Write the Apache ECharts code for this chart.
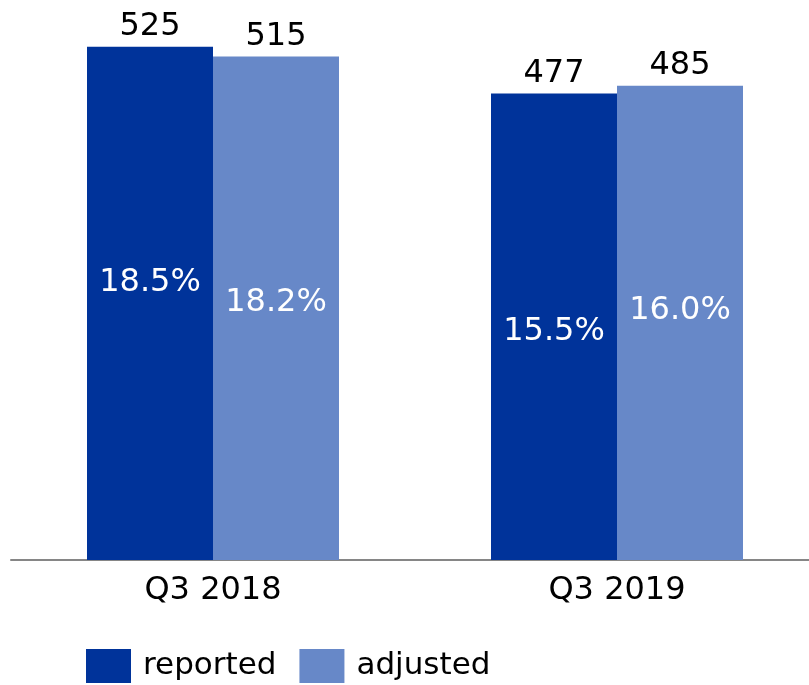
<!DOCTYPE html>
<html>
<head>
<meta charset="utf-8">
<script src="https://cdn.jsdelivr.net/npm/echarts@6/dist/echarts.min.js"></script>
<style>
  html, body { margin: 0; padding: 0; background: #fff; }
  #chart { width: 809px; height: 685px; }
</style>
</head>
<body>
<div id="chart"></div>
<script>
var categories = ['Q3 2018', 'Q3 2019'];
var reported = [525, 477];
var adjusted = [515, 485];
var reportedPct = ['18.5%', '15.5%'];
var adjustedPct = ['18.2%', '16.0%'];

// vertical shifts of the % labels from the bar middle
var reportedPctShift = [-21, 5];
var adjustedPctShift = [-6, -12];

var FONT = 'DejaVu Sans, Verdana, sans-serif';
var darkBlue = '#00339a';
var lightBlue = '#6788c8';

function pctData(vals, texts, shifts) {
    return vals.map(function (v, i) {
        return { value: v, pct: texts[i], label: { offset: [0, shifts[i]] } };
    });
}

var chart = echarts.init(document.getElementById('chart'));
var option = {
    animation: false,
    grid: { left: 11, width: 808, top: 0, bottom: 125, outerBoundsMode: 'none' },
    legend: {
        data: ['reported', 'adjusted'],
        left: 81,
        top: 644,
        itemWidth: 45,
        itemHeight: 34,
        itemGap: 23,
        icon: 'rect',
        textStyle: { fontFamily: FONT, fontSize: 31, color: '#000', padding: [0, 0, 0, 7] }
    },
    xAxis: [{
        type: 'category',
        data: categories,
        axisLine: { lineStyle: { color: '#868686', width: 2 } },
        axisTick: { show: false },
        axisLabel: { fontFamily: FONT, fontSize: 32, color: '#000', margin: 15 }
    }, {
        type: 'category',
        data: categories,
        show: false
    }],
    yAxis: {
        type: 'value',
        min: 0,
        max: 572.7,
        show: false,
        splitLine: { show: false }
    },
    series: [{
        name: 'reported',
        type: 'bar',
        data: reported,
        barWidth: 126,
        barGap: 0,
        itemStyle: { color: darkBlue },
        label: { show: true, position: 'top', distance: 4, fontFamily: FONT, fontSize: 32, color: '#000' }
    }, {
        name: 'adjusted',
        type: 'bar',
        data: adjusted,
        barWidth: 126,
        barGap: 0,
        itemStyle: { color: lightBlue },
        label: { show: true, position: 'top', distance: 4, fontFamily: FONT, fontSize: 32, color: '#000' }
    }, {
        name: 'reportedPct',
        type: 'bar',
        xAxisIndex: 1,
        data: pctData(reported, reportedPct, reportedPctShift),
        barWidth: 126,
        barGap: 0,
        itemStyle: { color: 'rgba(0,0,0,0)' },
        label: {
            show: true, position: 'inside', fontFamily: FONT, fontSize: 32, color: '#fff',
            formatter: function (p) { return p.data.pct; }
        }
    }, {
        name: 'adjustedPct',
        type: 'bar',
        xAxisIndex: 1,
        data: pctData(adjusted, adjustedPct, adjustedPctShift),
        barWidth: 126,
        barGap: 0,
        itemStyle: { color: 'rgba(0,0,0,0)' },
        label: {
            show: true, position: 'inside', fontFamily: FONT, fontSize: 32, color: '#fff',
            formatter: function (p) { return p.data.pct; }
        }
    }]
};
chart.setOption(option);
</script>
</body>
</html>
